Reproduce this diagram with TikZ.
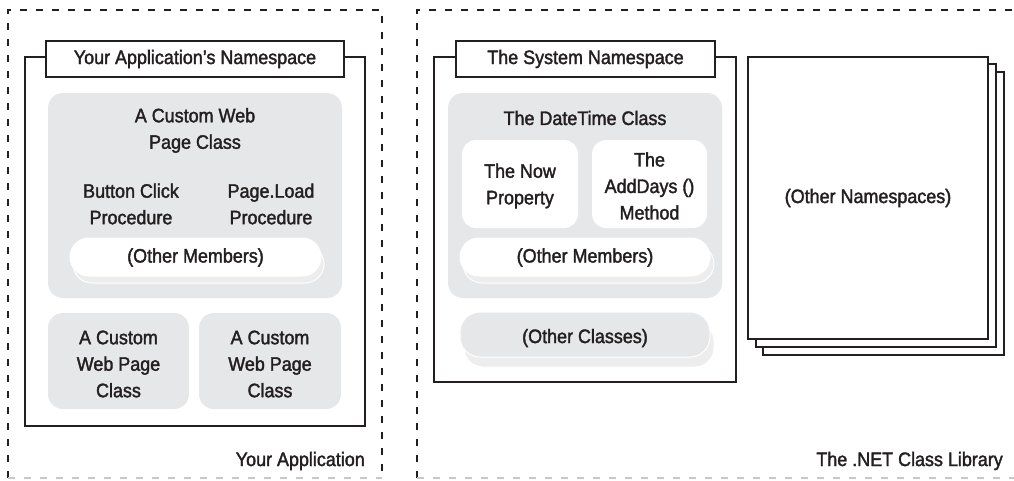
\documentclass[tikz,border=0pt]{standalone}
\usepackage{fontspec}
\setmainfont{Liberation Sans}[FakeBold=1.8, FakeStretch=0.92]
\definecolor{ink}{HTML}{231F20}
\definecolor{boxgray}{HTML}{E6E7E8}
\definecolor{shadowgray}{HTML}{EDEDEE}
\definecolor{lightdash}{HTML}{C8C8C8}
\begin{document}
\begin{tikzpicture}[x=1pt,y=-1pt,
  dashline/.style={draw=ink, line width=1.8pt, dash pattern=on 7pt off 9pt},
  lightline/.style={draw=lightdash, line width=1.8pt, dash pattern=on 7pt off 9pt},
  nsbox/.style={draw=ink, line width=1.6pt, fill=white},
  tabbox/.style={draw=ink, line width=1.6pt, fill=white, inner sep=0pt, text=ink,
     font=\fontsize{19.5}{26.5}\selectfont},
  graybox/.style={fill=boxgray, rounded corners=15pt},
  whitebox/.style={fill=white, rounded corners=14pt},
  pillshadow/.style={fill=shadowgray, draw=white, line width=1pt, rounded corners=19pt},
  whitepill/.style={fill=white, draw=white, line width=1pt, rounded corners=19pt},
  graypill/.style={fill=boxgray, draw=white, line width=1pt, rounded corners=20pt},
  page/.style={draw=ink, line width=1.4pt, fill=white},
  lbl/.style={align=center, text=ink, inner sep=0pt, font=\fontsize{19.5}{26.5}\selectfont}
]
\useasboundingbox (0,0) rectangle (1014,480);

% outer dashed regions
\draw[dashline] (8,478) -- (8,10) -- (382,10) -- (382,478);
\draw[lightline] (8,478) -- (382,478);
\draw[dashline] (417,478) -- (417,10) -- (1014,10);
\draw[lightline] (417,478) -- (1014,478);

% ---------- left: Your Application ----------
\draw[nsbox] (25,57) rectangle (365,426);
\node[tabbox, minimum width=298pt, minimum height=36pt] (yans) at (195,59) {Your Application's Namespace};

\fill[graybox] (48,93) rectangle (342,298);
\node[lbl] (cwp) at (195,130.5) {A Custom Web\\Page Class};
\node[lbl] (btn) at (131,204) {Button Click\\Procedure};
\node[lbl] (pld) at (271,204) {Page.Load\\Procedure};
\draw[pillshadow] (73,245) rectangle (324,283);
\draw[whitepill] (70,238) rectangle (321,276);
\node[lbl] (om1) at (195.5,257.5) {(Other Members)};

\fill[graybox] (48,313) rectangle (189,409);
\fill[graybox] (199,313) rectangle (341,409);
\node[lbl] (cwp2) at (118.5,364) {A Custom\\Web Page\\Class};
\node[lbl] (cwp3) at (270,364) {A Custom\\Web Page\\Class};

\node[lbl, anchor=east] (yapp) at (365,461) {Your Application};

% ---------- right: .NET Class Library ----------
\draw[nsbox] (434,57) rectangle (736,382);
\node[tabbox, minimum width=259pt, minimum height=36pt] (sysns) at (585.5,59) {The System Namespace};

\fill[graybox] (448,93) rectangle (722,298);
\node[lbl] (dtc) at (585,118) {The DateTime Class};
\fill[whitebox] (462,140) rectangle (578,228);
\fill[whitebox] (592,140) rectangle (707,228);
\node[lbl] (now) at (520,186) {The Now\\Property};
\node[lbl] (add) at (649.5,186) {The\\AddDays ()\\Method};
\draw[pillshadow] (463,245) rectangle (714,283);
\draw[whitepill] (460,238) rectangle (710,276);
\node[lbl] (om2) at (585,257.5) {(Other Members)};

\draw[pillshadow] (464,322) rectangle (714,367);
\draw[graypill] (460,312) rectangle (710,357);
\node[lbl] (ocl) at (585,338) {(Other Classes)};

% stacked namespaces
\draw[page] (763,72) rectangle (1004,355);
\draw[page] (756,64) rectangle (996,347);
\draw[page] (748,57) rectangle (988,339);
\node[lbl] (ons) at (868,198) {(Other Namespaces)};

\node[lbl, anchor=east] (netlib) at (1003,461) {The .NET Class Library};
\end{tikzpicture}
\end{document}
